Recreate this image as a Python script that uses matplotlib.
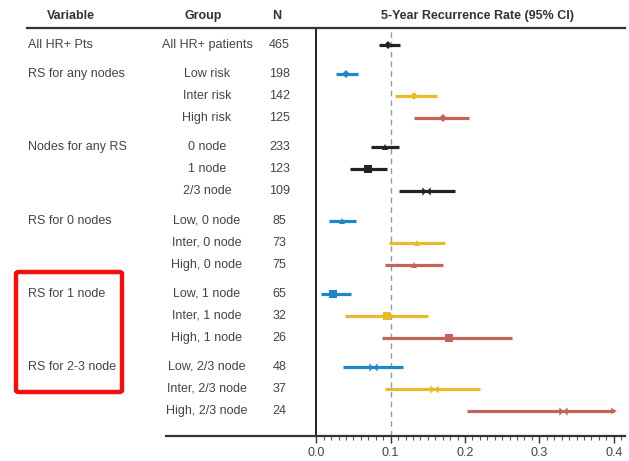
import numpy as np
import matplotlib
matplotlib.use('Agg')
import matplotlib.pyplot as plt
from matplotlib.lines import Line2D
from matplotlib.patches import FancyBboxPatch
from matplotlib.path import Path
from matplotlib.transforms import blended_transform_factory
from matplotlib.ticker import MultipleLocator

plt.rcParams['font.family'] = ['Liberation Sans', 'DejaVu Sans']

# forest plot data: 5-year recurrence rate with 95% CI
variables = ['All HR+ Pts', 'RS for any nodes', '', '', 'Nodes for any RS', '', '',
             'RS for 0 nodes', '', '', 'RS for 1 node', '', '', 'RS for 2-3 node', '', '']
groups = ['All HR+ patients', 'Low risk', 'Inter risk', 'High risk',
          '0 node', '1 node', '2/3 node',
          'Low, 0 node', 'Inter, 0 node', 'High, 0 node',
          'Low, 1 node', 'Inter, 1 node', 'High, 1 node',
          'Low, 2/3 node', 'Inter, 2/3 node', 'High, 2/3 node']
n_pts = [465, 198, 142, 125, 233, 123, 109, 85, 73, 75, 65, 32, 26, 48, 37, 24]
rate = [0.097, 0.040, 0.132, 0.170, 0.093, 0.069, 0.148,
        0.034, 0.135, 0.131, 0.022, 0.095, 0.178, 0.076, 0.158, 0.332]
ci_lo = [0.084, 0.026, 0.106, 0.131, 0.074, 0.045, 0.111,
         0.017, 0.098, 0.093, 0.006, 0.039, 0.088, 0.036, 0.093, 0.203]
ci_hi = [0.112, 0.056, 0.162, 0.205, 0.111, 0.095, 0.186,
         0.053, 0.173, 0.170, 0.046, 0.150, 0.263, 0.117, 0.220, 0.400]
group_sizes = [1, 3, 3, 3, 3, 3]

# styling
blue, yellow, red, black = '#1f86c8', '#e8bb2e', '#c4635c', '#222222'
bowtie = Path([(-1, 1), (0, 0), (-1, -1), (-1, 1), (1, 1), (0, 0), (1, -1), (1, 1)],
              [Path.MOVETO, Path.LINETO, Path.LINETO, Path.CLOSEPOLY,
               Path.MOVETO, Path.LINETO, Path.LINETO, Path.CLOSEPOLY])
row_colors = [black, blue, yellow, red, black, black, black,
              blue, yellow, red, blue, yellow, red, blue, yellow, red]
row_markers = ['D', 'D', 'D', 'D', '^', 's', bowtie,
               '^', '^', '^', 's', 's', 's', bowtie, bowtie, bowtie]
row_msize = [4, 4, 4, 4, 5, 6, 6, 5, 5, 5, 6, 6, 6, 6, 6, 6]
txt = '#444444'

# row positions with a small gap between groups
ypos = []
y = 0.0
for gi, size in enumerate(group_sizes):
    for k in range(size):
        ypos.append(y)
        y += 1
    y += 0.33
ypos = np.array(ypos)

W, H = 629, 461
def fx(px):
    return px / W
def fy(py):
    return 1 - py / H

fig = plt.figure(figsize=(W / 100, H / 100), dpi=100)
x0, px_per = 316.3, 743.5
ax = fig.add_axes([fx(x0), fy(436), (625 - x0) / W, (436 - 28) / H])
ax.set_xlim(0, (625 - x0) / px_per)
ax.set_ylim(ypos[-1] + 1.14, -0.77)

ax.axvline(0.1, color='#999999', ls=(0, (4, 3)), lw=1.0, zorder=1)

for i in range(len(groups)):
    ax.plot([ci_lo[i], ci_hi[i]], [ypos[i], ypos[i]], color=row_colors[i],
            lw=2.3, solid_capstyle='butt', zorder=2)
    ax.plot(rate[i], ypos[i], marker=row_markers[i], color=row_colors[i],
            ms=row_msize[i], mew=0, zorder=3)
# interval running past the axis end
ax.plot(ci_hi[-1], ypos[-1], marker='>', color=red, ms=5, mew=0, zorder=3, clip_on=False)

for s in ['top', 'right', 'bottom']:
    ax.spines[s].set_visible(False)
ax.spines['left'].set_linewidth(1.4)
ax.spines['left'].set_color('#222222')
ax.set_yticks([])
ax.xaxis.set_major_locator(MultipleLocator(0.1))
ax.xaxis.set_minor_locator(MultipleLocator(0.01))
ax.set_xticks([0.0, 0.1, 0.2, 0.3, 0.4])
ax.set_xticklabels(['0.0', '0.1', '0.2', '0.3', '0.4'])
ax.tick_params(axis='x', which='major', length=5, width=1, color='#333333',
               labelsize=9, labelcolor=txt, pad=3)
ax.tick_params(axis='x', which='minor', length=3, width=0.8, color='#555555')

# table columns on the left
trans = blended_transform_factory(fig.transFigure, ax.transData)
for i in range(len(groups)):
    if variables[i]:
        ax.text(fx(28), ypos[i], variables[i], transform=trans, ha='left', va='center',
                fontsize=9, color=txt, clip_on=False)
    ax.text(fx(207), ypos[i], groups[i], transform=trans, ha='center', va='center',
            fontsize=9, color=txt, clip_on=False)
    ax.text(fx(279.5), ypos[i], str(n_pts[i]), transform=trans, ha='center', va='center',
            fontsize=9, color=txt, clip_on=False)

# header
for label, xc in [('Variable', 71), ('Group', 203), ('N', 277),
                  ('5-Year Recurrence Rate (95% CI)', 477)]:
    fig.text(fx(xc), fy(16), label, ha='center', va='center', fontsize=9,
             fontweight='bold', color='#333333')

fig.add_artist(Line2D([fx(27), fx(625)], [fy(28), fy(28)], lw=1.6, color='#333333'))
fig.add_artist(Line2D([fx(166), fx(625)], [fy(436), fy(436)], lw=1.6, color='#333333'))

# highlight box
box = FancyBboxPatch((fx(16), fy(392)), fx(122) - fx(16), fy(272) - fy(392),
                     boxstyle='round,pad=0,rounding_size=0.004', transform=fig.transFigure,
                     fill=False, edgecolor='#ee1111', lw=3.2)
fig.add_artist(box)

fig.savefig('out.png', dpi=100, facecolor='white')
